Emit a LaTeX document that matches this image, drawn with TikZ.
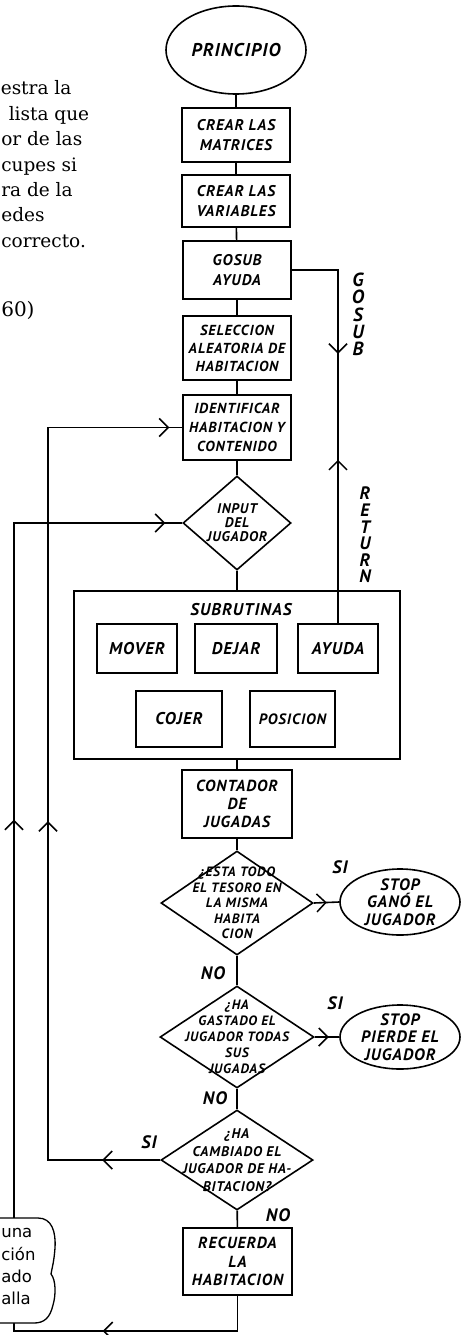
\documentclass[tikz,border=0pt]{standalone}
\usepackage{fontspec}
\setmainfont{DejaVu Serif}
\newfontfamily\handfont{PT Sans}[LetterSpace=6]
\newfontfamily\bubfont{DejaVu Sans}
\usetikzlibrary{shapes.geometric,arrows.meta,decorations.markings}
\tikzset{
  barb/.tip={Straight Barb[length=9pt,width=18pt,line width=1.5pt]},
}
\newcommand{\hf}[2]{\handfont\bfseries\itshape\fontsize{#1}{#2}\selectfont}
\begin{document}
\begin{tikzpicture}[x=1pt,y=-1pt,line width=1.6pt,
  hand/.style={font=\hf{15.5}{20},align=center},
  proc/.style={draw,rectangle,inner sep=0pt,hand},
  dec/.style={draw,diamond,inner sep=0pt},
  term/.style={draw,ellipse,inner sep=0pt},
  txt/.style={align=center,inner sep=0pt},
  lbl/.style={inner sep=0pt,font=\hf{18}{18}},
  body/.style={inner sep=0pt,anchor=base west,font=\fontsize{18.5}{24}\selectfont},
  bub/.style={inner sep=0pt,anchor=base west,font=\bubfont\fontsize{16.5}{20}\selectfont},
  vert/.style={inner sep=0pt,align=center,font=\hf{19}{17.3}},
]
\useasboundingbox (0,0) rectangle (468,1335);

% left paragraph fragments
\node[body] (t1) at (0,95) {estra la};
\node[body] (t2) at (8,120.4) {lista que};
\node[body] (t3) at (0.5,145.7) {or de las};
\node[body] (t4) at (0.5,171) {cupes si};
\node[body] (t5) at (0.5,196.4) {ra de la};
\node[body] (t6) at (0.5,221.7) {edes};
\node[body] (t7) at (0.5,247) {correcto.};
\node[body,font=\fontsize{20}{24}\selectfont] (t8) at (0.5,316) {60)};

% main column
\node[term,minimum width=140pt,minimum height=88pt,label={[txt,font=\hf{18.5}{18}]center:PRINCIPIO}] (start) at (236,50) {};
\node[proc,minimum width=108pt,minimum height=54pt] (b1) at (236,135) {CREAR LAS\\MATRICES};
\node[proc,minimum width=108pt,minimum height=52pt] (b2) at (236,201) {CREAR LAS\\VARIABLES};
\node[proc,minimum width=108pt,minimum height=58pt] (b3) at (237,270) {GOSUB\\AYUDA};
\node[proc,minimum width=108pt,minimum height=64pt,font=\hf{14.5}{18}] (b4) at (237,348) {SELECCION\\ALEATORIA DE\\HABITACION};
\node[proc,minimum width=108pt,minimum height=65pt,font=\hf{14.5}{19}] (b5) at (237,427.5) {IDENTIFICAR\\HABITACION Y\\CONTENIDO};
\node[dec,minimum width=108pt,minimum height=94pt,label={[txt,font=\hf{14}{14}]center:INPUT\\DEL\\JUGADOR}] (d1) at (237,523) {};

% subroutines frame
\node[draw,rectangle,inner sep=0pt,minimum width=326pt,minimum height=168pt] (frame) at (237,675) {};
\node[txt,font=\hf{17}{17}] (sublbl) at (241,610) {SUBRUTINAS};
\node[proc,minimum width=80pt,minimum height=49pt,font=\hf{17}{17}] (mover) at (137,648.5) {MOVER};
\node[proc,minimum width=82pt,minimum height=49pt,font=\hf{17}{17}] (dejar) at (236,648.5) {DEJAR};
\node[proc,minimum width=80pt,minimum height=49pt,font=\hf{17}{17}] (ayuda) at (338,648.5) {AYUDA};
\node[proc,minimum width=86pt,minimum height=56pt,font=\hf{17}{17}] (cojer) at (179,719) {COJER};
\node[proc,minimum width=85pt,minimum height=56pt,font=\hf{15}{17}] (posicion) at (292.5,719) {POSICION};

\node[proc,minimum width=110pt,minimum height=68pt,font=\hf{16}{18}] (b6) at (237,804) {CONTADOR\\DE\\JUGADAS};
\node[dec,minimum width=152pt,minimum height=104pt,label={[txt,font=\hf{13.5}{15.5}]center:¿ESTA TODO\\EL TESORO EN\\LA MISMA\\HABITA\\CION}] (d2) at (237,903) {};
\node[term,minimum width=120pt,minimum height=66pt,label={[txt,font=\hf{16.5}{17.5}]center:STOP\\GANÓ EL\\JUGADOR}] (e2) at (400,902) {};
\node[dec,minimum width=154pt,minimum height=102pt,label={[txt,font=\hf{13.5}{16}]center:¿HA\\GASTADO EL\\JUGADOR TODAS\\SUS\\JUGADAS}] (d3) at (237,1037) {};
\node[term,minimum width=120pt,minimum height=64pt,label={[txt,font=\hf{16.5}{17.5}]center:STOP\\PIERDE EL\\JUGADOR}] (e3) at (400,1037) {};
\node[dec,minimum width=152pt,minimum height=100pt,label={[txt,font=\hf{14}{17.5}]center:¿HA\\CAMBIADO EL\\JUGADOR DE HA-\\BITACION?}] (d4) at (237,1160) {};
\node[proc,minimum width=109pt,minimum height=67pt,font=\hf{16}{18.5}] (b7) at (237.5,1261.5) {RECUERDA\\LA\\HABITACION};

% branch labels
\node[lbl] (si1) at (340,867) {SI};
\node[lbl] (no1) at (213,973) {NO};
\node[lbl] (si2) at (335,1003) {SI};
\node[lbl] (no2) at (215,1098) {NO};
\node[lbl] (si3) at (149,1142) {SI};
\node[lbl] (no3) at (278,1215) {NO};

% vertical words
\node[vert] (gosublbl) at (358,314.5) {G\\O\\S\\U\\B};
\node[vert,font=\hf{18}{16.6}] (retlbl) at (365,535) {R\\E\\T\\U\\R\\N};

% straight connectors
\draw (start) -- (b1);
\draw (b1) -- (b2);
\draw (b2) -- (b3);
\draw (b3) -- (b4);
\draw (b4) -- (b5);
\draw (b5) -- (d1);
\draw (d1) -- (frame.north);
\draw (frame.south) -- (b6);
\draw (b6) -- (d2);
\draw (d2) -- (d3);
\draw (d3) -- (d4);
\draw (d4) -- (b7);
\draw[postaction={decorate},decoration={markings,mark=at position 13pt with {\arrow{barb}}}] (d2.east) -- (e2.west);
\draw[postaction={decorate},decoration={markings,mark=at position 14pt with {\arrow{barb}}}] (d3.east) -- (e3.west);

% gosub / return
\draw[postaction={decorate},decoration={markings,
   mark=at position 130pt with {\arrow{barb}},
   mark=at position 236pt with {\arrowreversed{barb}}}] (b3.east) -| (ayuda.north);

% loops
\coordinate (innerx) at (48,0);
\coordinate (outerx) at (14,0);
\coordinate (bottomy) at (0,1331);
\draw[postaction={decorate},decoration={markings,
   mark=at position 58pt with {\arrow{barb}},
   mark=at position 451pt with {\arrow{barb}},
   mark=at position 966pt with {\arrow{barb}}}]
   (d4.west) -- (d4.west -| innerx) |- (b5.west);
\draw[postaction={decorate},decoration={markings,
   mark=at position 170pt with {\arrow{barb}},
   mark=at position 770pt with {\arrow{barb}},
   mark=at position 1218pt with {\arrow{barb}}}]
   (b7.south) |- (outerx |- bottomy) |- (d1.west);

% speech bubble (cut at left edge)
\draw[fill=white,line width=1.3pt] (-3,1218) -- (38,1218)
   .. controls (52,1218) and (56,1232) .. (55,1248)
   .. controls (54,1262) and (52,1268) .. (51,1274)
   .. controls (56,1280) and (56,1295) .. (53,1305)
   .. controls (50,1318) and (44,1323) .. (34,1323) -- (-3,1323);
\node[bub] (w1) at (0.5,1237) {una};
\node[bub] (w2) at (0.5,1260) {ción};
\node[bub] (w3) at (0.5,1282) {ado};
\node[bub] (w4) at (0.5,1304) {alla};
\end{tikzpicture}
\end{document}
